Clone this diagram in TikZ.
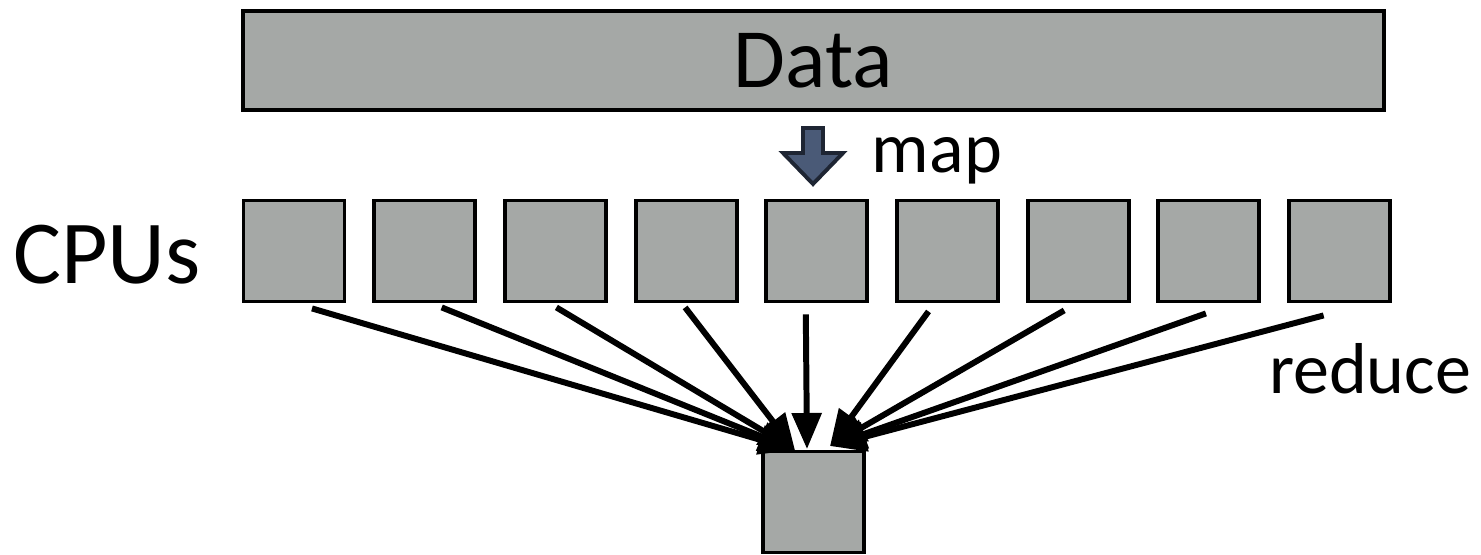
\documentclass[tikz,border=0pt]{standalone}
\usepackage{fontspec}
\setmainfont{Carlito}
\usetikzlibrary{arrows.meta, positioning, calc}
\definecolor{cbox}{HTML}{A5A8A6}
\definecolor{cslate}{HTML}{4A5A77}
\definecolor{cdark}{HTML}{1E2533}
\tikzset{
  every picture/.style={line width=1.1pt},
  unit/.style={draw=black, fill=cbox, line width=1.1pt, minimum size=1.01cm, inner sep=0pt},
  strip/.style={draw=black, fill=cbox, line width=1.1pt, minimum width=11.41cm, minimum height=0.99cm, inner sep=0pt},
  arrow/.style={-{Triangle[length=0.36cm, width=0.29cm]}, draw=black, line width=1.7pt},
  big/.style={font=\fontsize{25.6}{30}\selectfont},
  word/.style={font=\fontsize{20.5}{25}\selectfont},
}

\begin{document}
\begin{tikzpicture}
  \useasboundingbox (0,0) rectangle (14.81,-5.54);
  % ---- data strip
  \node[strip, font=\fontsize{24}{28}\selectfont] (data) at (8.135,-0.605) {Data};
  % ---- map arrow
  \filldraw[fill=cslate, draw=cdark, line width=1.1pt]
    (8.03,-1.28) -- (8.23,-1.28) -- (8.23,-1.53) -- (8.43,-1.53) -- (8.13,-1.84)
    -- (7.83,-1.53) -- (8.03,-1.53) -- cycle;
  \node[word, anchor=base west, inner xsep=0pt] (map) at (8.70,-1.72) {map};
  % ---- CPUs
  \foreach \i in {1,...,9}
    \node[unit] (cpu\i) at ({2.94+1.307*(\i-1)},-2.51) {};
  \node[big, anchor=base] (cpulabel) at (1.07,-2.83) {CPUs};
  % ---- reduce
  \node[unit] (sink) at (8.135,-5.02) {};
  \coordinate (tgtL) at (7.95,-4.50);
  \coordinate (tgtM) at (8.07,-4.49);
  \coordinate (tgtR) at (8.30,-4.46);
  \foreach \i/\dx/\dy/\t in {1/0.18/-0.05/tgtL, 2/0.17/-0.04/tgtL, 3/0.01/-0.04/tgtL,
      4/-0.01/-0.04/tgtL, 5/-0.11/-0.11/tgtM, 6/-0.19/-0.08/tgtR, 7/-0.14/-0.07/tgtR,
      8/-0.03/-0.10/tgtR, 9/-0.16/-0.12/tgtR}
    \draw[arrow] ([xshift=\dx cm, yshift=\dy cm]cpu\i.south) -- (\t);
  \node[word, anchor=base east, inner xsep=0pt] (reduce) at (14.73,-3.93) {reduce};
\end{tikzpicture}
\end{document}
